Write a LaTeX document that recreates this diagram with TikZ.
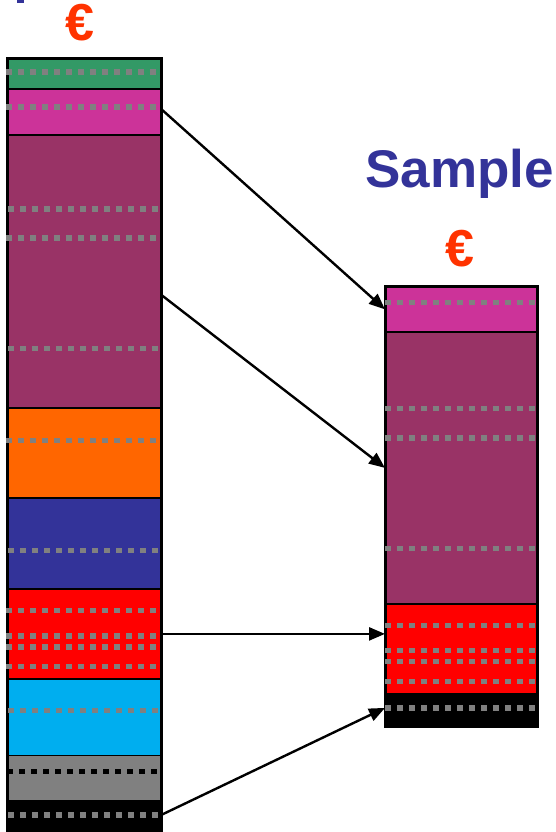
\documentclass[tikz,border=0pt]{standalone}
\usepackage{fontspec}
\setmainfont{Liberation Sans}
\usetikzlibrary{arrows.meta,calc}

\definecolor{cgreen}{HTML}{339966}
\definecolor{cmagenta}{HTML}{CC3399}
\definecolor{cmaroon}{HTML}{993366}
\definecolor{corange}{HTML}{FF6600}
\definecolor{cblue}{HTML}{333399}
\definecolor{cred}{HTML}{FF0000}
\definecolor{ccyan}{HTML}{00AEEF}
\definecolor{cgray}{HTML}{808080}
\definecolor{ctitle}{HTML}{333399}
\definecolor{ceuro}{HTML}{FF3300}

\tikzset{
  seg/.style={draw=black, line width=1.8pt, inner sep=0pt, anchor=north west},
  lseg/.style={seg, minimum width=152.5pt},
  rseg/.style={seg, minimum width=151pt},
  dotrow/.style={draw=cgray, line width=5.5pt, dash pattern=on 5.5pt off 6.5pt},
  blackrow/.style={dotrow, draw=black},
  link/.style={draw=black, line width=2.4pt, -{Triangle[length=16pt,width=13pt]}},
  title/.style={inner sep=0pt, anchor=base west, text=ctitle, font=\bfseries\fontsize{53}{53}\selectfont},
  euro/.style={inner sep=0pt, anchor=base, text=ceuro, font=\bfseries\fontsize{52}{52}\selectfont}
}

\begin{document}
\begin{tikzpicture}[x=1pt,y=-1pt]
\useasboundingbox (0,0) rectangle (555,832);

% tail of the cut-off heading above the left column
\fill[ctitle] (17,0) rectangle (24,3);

% headings
\node[euro] (eurol) at (79.7,41) {€};
\node[title] (samp) at (365,187) {Sample};
\node[euro] (euror) at (459.7,266) {€};

% left column
\node[lseg, fill=cgreen,   minimum height=30.5pt]  (lgrn) at (7,58)    {};
\node[lseg, fill=cmagenta, minimum height=45.5pt]  (lmag) at (7,88.5)  {};
\node[lseg, fill=cmaroon,  minimum height=273pt]   (lmar) at (7,134)   {};
\node[lseg, fill=corange,  minimum height=90pt]    (lorg) at (7,407)   {};
\node[lseg, fill=cblue,    minimum height=91pt]    (lblu) at (7,497)   {};
\node[lseg, fill=cred,     minimum height=90pt]    (lred) at (7,588)   {};
\node[lseg, fill=ccyan,    minimum height=76.5pt]  (lcyn) at (7,678)   {};
\node[lseg, fill=cgray,    minimum height=45.5pt]  (lgry) at (7,754.5) {};
\node[lseg, fill=black,    minimum height=40pt]    (lblk) at (7,800)   {};
\draw[line width=2.8pt] (lgrn.north west) rectangle (lblk.south east);

% left column dotted rows
\foreach \y/\x in {72/6,107/6,209/8,238/6,348.7/8,440.7/6,550.7/8,
                   610.7/6,636/6,647/6,666.7/6,710.3/8,815/8}
  \draw[dotrow] (\x,\y) -- (\x+150,\y);
\draw[blackrow] (7,771.7) -- (157,771.7);

% right column
\node[rseg, fill=cmagenta, minimum height=45pt]  (rmag) at (385,286) {};
\node[rseg, fill=cmaroon,  minimum height=272pt] (rmar) at (385,331) {};
\node[rseg, fill=cred,     minimum height=90pt]  (rred) at (385,603) {};
\node[rseg, fill=black,    minimum height=32pt]  (rblk) at (385,693) {};
\draw[line width=2.2pt] (rmag.north west) rectangle (rblk.south east);

% right column dotted rows
\foreach \y in {302.7,408.7,438,548.3,625.3,650.7,661.7,681.3,708}
  \draw[dotrow] (385,\y) -- (535,\y);

% links from the left column to the right one
\coordinate (s1) at ([yshift=3pt]lmag.east);
\coordinate (s2) at ([yshift=-23.5pt]lmar.east);
\coordinate (s4) at ([yshift=6pt]lblk.east);
\coordinate (e3) at (lred.east -| rred.west);
\coordinate (e4) at ([yshift=2pt]rblk.west);
\draw[link] (s1) -- (rmag.west);
\draw[link] (s2) -- (rmar.west);
\draw[link] (lred.east) -- (e3);
\draw[link] (s4) -- (e4);
\end{tikzpicture}
\end{document}
